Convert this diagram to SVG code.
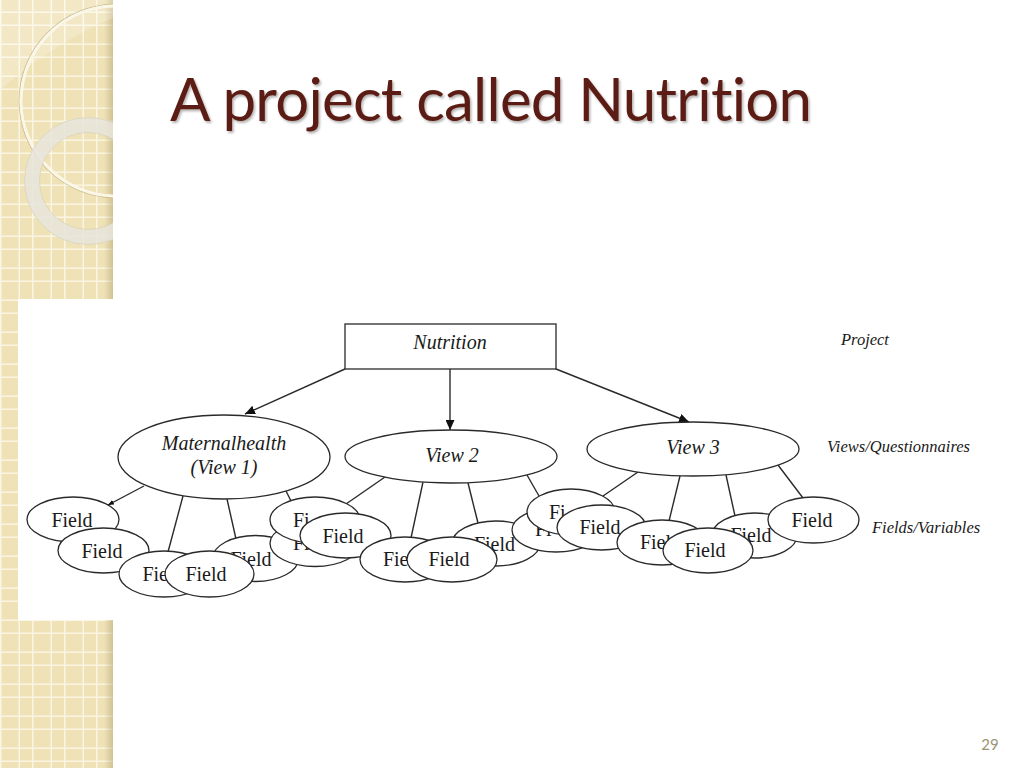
<svg xmlns="http://www.w3.org/2000/svg" width="1024" height="768" viewBox="0 0 1024 768">
<defs>
<style>
.edge{stroke:#2a2a2a;stroke-width:1.4;fill:none}
.node{fill:#fff;stroke:#2a2a2a;stroke-width:1.3}
.t{font-family:"Liberation Serif","Times New Roman",serif;font-size:20px;fill:#1a1a1a;text-anchor:middle}
.tl{font-family:"Liberation Serif","Times New Roman",serif;font-size:20px;fill:#1a1a1a}
.it{font-style:italic}
.lab{font-family:"Liberation Serif","Times New Roman",serif;font-style:italic;font-size:16.5px;fill:#1a1a1a}
.title{font-variant-ligatures:none;font-feature-settings:"liga" 0,"clig" 0}
</style>
<pattern id="grid" patternUnits="userSpaceOnUse" width="32" height="32">
<rect width="32" height="32" fill="#efe2b7"/>
<rect x="0" y="0" width="1.5" height="32" fill="#fbf6e4"/>
<rect x="18.5" y="0" width="1.5" height="32" fill="#fbf6e4"/>
<rect x="0" y="11.5" width="32" height="1.5" fill="#fbf6e4"/>
<rect x="0" y="24.5" width="32" height="1.5" fill="#fbf6e4"/>
</pattern>
<linearGradient id="edgeShade" x1="0" y1="0" x2="1" y2="0">
<stop offset="0" stop-color="#b9a876" stop-opacity="0"/>
<stop offset="1" stop-color="#b9a876" stop-opacity="0.55"/>
</linearGradient>
<clipPath id="sideClip"><rect x="0" y="0" width="113" height="299"/></clipPath>
<filter id="sh" x="-5%" y="-20%" width="110%" height="140%">
<feDropShadow dx="1.5" dy="2" stdDeviation="1.2" flood-color="#000" flood-opacity="0.3"/>
</filter>
<marker id="arr" markerUnits="userSpaceOnUse" markerWidth="10" markerHeight="9" refX="10" refY="4.5" orient="auto">
<path d="M0,0 L10,4.5 L0,9 Z" fill="#111"/>
</marker>
<marker id="arrs" markerUnits="userSpaceOnUse" markerWidth="6" markerHeight="5" refX="6" refY="2.5" orient="auto">
<path d="M0,0 L6,2.5 L0,5 Z" fill="#111"/>
</marker>
</defs>

<rect width="1024" height="768" fill="#ffffff"/>

<g id="sidebar">
<rect x="0" y="0" width="113" height="768" fill="url(#grid)"/>
<rect x="104" y="0" width="9" height="768" fill="url(#edgeShade)"/>
<g clip-path="url(#sideClip)">
<path d="M0,0 H113 V18 Q55,42 0,90 Z" fill="#ffffff" opacity="0.22"/>
<circle cx="116" cy="101" r="96.8" fill="none" stroke="#bfae7c" stroke-width="1.2" opacity="0.7"/>
<circle cx="116" cy="101" r="95" fill="none" stroke="#fbf7e8" stroke-width="3"/>
<circle cx="88" cy="181" r="56" fill="none" stroke="#e6e4dc" stroke-width="15" opacity="0.85"/>
<circle cx="88" cy="181" r="63.5" fill="none" stroke="#d3ccb5" stroke-width="0.8" opacity="0.7"/>
<circle cx="88" cy="181" r="48.5" fill="none" stroke="#d3ccb5" stroke-width="0.8" opacity="0.7"/>
</g>
</g>

<rect id="panel" x="18" y="299" width="1006" height="321" fill="#ffffff"/>

<text id="title" class="title" x="170" y="121" font-family="Lato, 'Open Sans', sans-serif" font-size="60" fill="#5c1d12" textLength="642" filter="url(#sh)">A project called Nutrition</text>

<g id="connectors">
<line class="edge" x1="345" y1="369" x2="245" y2="414" marker-end="url(#arr)"/>
<line class="edge" x1="450" y1="369" x2="450" y2="430" marker-end="url(#arr)"/>
<line class="edge" x1="556" y1="369" x2="689" y2="422" marker-end="url(#arr)"/>
<line class="edge" x1="144" y1="486" x2="108" y2="505" marker-end="url(#arrs)"/>
<line class="edge" x1="183" y1="496" x2="168" y2="552"/>
<line class="edge" x1="227" y1="499" x2="236" y2="539"/>
<line class="edge" x1="286" y1="491" x2="291" y2="501"/>
<line class="edge" x1="385" y1="477" x2="346" y2="504"/>
<line class="edge" x1="423" y1="482" x2="411" y2="538"/>
<line class="edge" x1="468" y1="483" x2="478" y2="523"/>
<line class="edge" x1="527" y1="475" x2="539" y2="496"/>
<line class="edge" x1="638" y1="472" x2="603" y2="496"/>
<line class="edge" x1="680" y1="476" x2="669" y2="521"/>
<line class="edge" x1="726" y1="475" x2="735" y2="516"/>
<line class="edge" x1="778" y1="465" x2="803" y2="498"/>
</g>

<g id="nutrition">
<rect class="node" x="345" y="324" width="211" height="45"/>
<text class="t it" x="450" y="349">Nutrition</text>
</g>
<g id="view1">
<ellipse class="node" cx="224" cy="457" rx="106" ry="42"/>
<text class="t it" x="224" y="450">Maternalhealth</text>
<text class="t it" x="224" y="474">(View 1)</text>
</g>
<g id="view2">
<ellipse class="node" cx="451" cy="456.5" rx="106" ry="26.5"/>
<text class="t it" x="452" y="462">View 2</text>
</g>
<g id="view3">
<ellipse class="node" cx="693" cy="449" rx="106" ry="27"/>
<text class="t it" x="693" y="454">View 3</text>
</g>

<g id="f1"><ellipse class="node" cx="73" cy="519.5" rx="46" ry="22.5"/><text class="t" x="72" y="527">Field</text></g>
<g id="f2"><ellipse class="node" cx="103.5" cy="550.5" rx="45.5" ry="22.5"/><text class="t" x="102" y="558">Field</text></g>
<g id="f3"><ellipse class="node" cx="164" cy="574" rx="45" ry="23"/><text class="t" x="163" y="581">Field</text></g>
<g id="f5"><ellipse class="node" cx="255.5" cy="558.5" rx="43" ry="23"/><text class="t" x="251" y="565.5">Field</text></g>
<g id="f4"><ellipse class="node" cx="209.5" cy="574" rx="44.5" ry="23"/><text class="t" x="206" y="581">Field</text></g>
<g id="f6"><ellipse class="node" cx="315" cy="543.5" rx="45" ry="23"/><text class="tl" x="293" y="550">Fi</text></g>
<g id="f7"><ellipse class="node" cx="315" cy="520" rx="45" ry="23"/><text class="tl" x="293" y="527">Fi</text></g>
<g id="f8"><ellipse class="node" cx="345.5" cy="535.5" rx="45.5" ry="22.5"/><text class="t" x="343" y="542.5">Field</text></g>
<g id="f9"><ellipse class="node" cx="405" cy="559.5" rx="45" ry="22.5"/><text class="t" x="403.5" y="566">Field</text></g>
<g id="f10"><ellipse class="node" cx="496" cy="543.5" rx="44" ry="22.5"/><text class="t" x="494.5" y="550.5">Field</text></g>
<g id="f11"><ellipse class="node" cx="452" cy="559.5" rx="45" ry="22.5"/><text class="t" x="449" y="566">Field</text></g>
<g id="f12"><ellipse class="node" cx="556" cy="530" rx="44" ry="22"/><text class="tl" x="535" y="536">Fi</text></g>
<g id="f13"><ellipse class="node" cx="571" cy="512" rx="44" ry="23"/><text class="tl" x="549" y="518.5">Fi</text></g>
<g id="f14"><ellipse class="node" cx="601.5" cy="527.5" rx="44.5" ry="22.5"/><text class="t" x="600" y="533.5">Field</text></g>
<g id="f15"><ellipse class="node" cx="662" cy="542.5" rx="45" ry="22.5"/><text class="t" x="660.5" y="548.5">Field</text></g>
<g id="f16"><ellipse class="node" cx="754.5" cy="535.5" rx="42.5" ry="22.5"/><text class="t" x="751" y="542">Field</text></g>
<g id="f17"><ellipse class="node" cx="708" cy="550.5" rx="45" ry="22.5"/><text class="t" x="705" y="557">Field</text></g>
<g id="f18"><ellipse class="node" cx="813.5" cy="520" rx="45.5" ry="23"/><text class="t" x="812" y="527">Field</text></g>

<g id="labels">
<text class="lab" x="841" y="345" font-size="16">Project</text>
<text class="lab" x="827" y="452">Views/Questionnaires</text>
<text class="lab" x="872" y="533">Fields/Variables</text>
</g>

<text id="page" x="990" y="750" font-family="Lato, 'Open Sans', sans-serif" font-size="15" fill="#9a9475" text-anchor="middle">29</text>
</svg>
